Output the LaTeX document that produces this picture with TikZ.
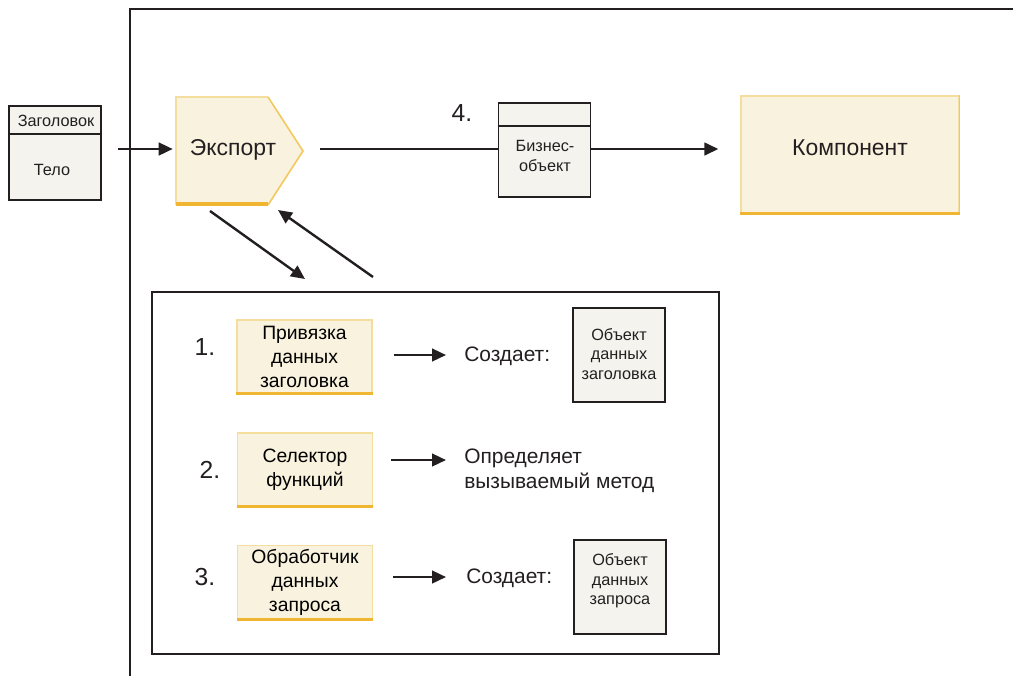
\documentclass[tikz,border=0pt]{standalone}
\usepackage{fontspec}
\setmainfont{Liberation Sans}
\usetikzlibrary{arrows.meta,calc}
\definecolor{yfill}{HTML}{F9F2DE}
\definecolor{ylight}{HTML}{F4DE9E}
\definecolor{ymid}{HTML}{F3C85C}
\definecolor{ydark}{HTML}{F0B632}
\definecolor{gfill}{HTML}{F5F3EE}
\definecolor{dk}{HTML}{231F20}
\newcommand\myBig{\fontsize{17.2}{20}\selectfont}
\newcommand\myMid{\fontsize{14.5}{18}\selectfont}
\newcommand\myMidB{\fontsize{15.7}{19}\selectfont}
\newcommand\mySmall{\fontsize{12.2}{14.6}\selectfont}
\begin{document}
\begin{tikzpicture}[x=0.75pt,y=-0.75pt,
  ln/.style={line width=1.8pt, draw=dk},
  arr/.style={ln, -{Triangle[length=10.5pt,width=9.5pt]}},
  ybox/.style={draw=ylight, fill=yfill, line width=1pt, minimum width=101.25pt, minimum height=55.5pt, inner sep=0pt, align=center, font=\myMid},
  gbox/.style={draw=dk, fill=gfill, line width=1.3pt, minimum width=69pt, minimum height=70.5pt, inner sep=0pt},
  txt/.style={inner sep=0pt, align=center, text=dk},
  num/.style={inner sep=0pt, font=\fontsize{18.5}{20}\selectfont, text=dk},
  ybottom/.style={draw=ydark, line width=2.5pt},
  yright/.style={draw=ymid, line width=1pt}]
\useasboundingbox (0,0) rectangle (1013,676);

% frame
\draw[line width=1.6pt, draw=dk] (130,676) -- (130,9) -- (1013,9);

% message box
\node[gbox] (msg) at (55,153) {};
\draw[dk, line width=1.3pt] ($(msg.north west)+(0,29)$) -- ($(msg.north east)+(0,29)$);
\node[txt, font=\mySmall] (msgh) at (56,121) {Заголовок};
\node[txt, font=\mySmall] (msgb) at (52,170) {Тело};

% export
\node[txt, font=\myBig, minimum width=95.25pt, minimum height=81pt] (exp) at (239.5,151) {};
\fill[yfill] (176,97) -- (268,97) -- (303,151) -- (268,205) -- (176,205) -- cycle;
\draw[ylight, line width=1pt] (176,205) -- (176,97) -- (268,97);
\draw[ymid, line width=1.2pt] (268,97) -- (303,151) -- (268,205);
\draw[ybottom] (176,204) -- (268,204);
\node[txt, font=\myBig] (expt) at (233,150) {Экспорт};

% business object
\node[gbox] (bo) at (544.5,150) {};
\draw[dk, line width=1.3pt] ($(bo.north west)+(0,24)$) -- ($(bo.north east)+(0,24)$);
\node[txt, font=\mySmall] (bot) at (545,156) {Бизнес-\\объект};
\node[num] (n4) at (462,113) {4.};

% component
\node[draw=ylight, fill=yfill, line width=1pt, minimum width=163.5pt, minimum height=88.5pt, inner sep=0pt] (komp) at (850,155) {};
\draw[yright] (komp.north east) -- (komp.south east);
\draw[ybottom] ($(komp.south west)+(0,-1)$) -- ($(komp.south east)+(0,-1)$);
\node[txt, font=\myBig] (kompt) at (850,148) {Компонент};

% top connectors
\draw[arr] ($(msg.east)+(16,-4)$) -- ($(exp.west)+(-3,-2)$);
\draw[ln] ($(exp.east)+(17,-2)$) -- ($(bo.west)+(0,-1)$);
\draw[arr] ($(bo.east)+(0,-1)$) -- ($(komp.west)+(-22,-6)$);

% inner box
\node[draw=dk, line width=1.6pt, minimum width=425.25pt, minimum height=271.5pt, inner sep=0pt] (inner) at (435.5,473) {};

% diagonal arrows
\coordinate (d1s) at (210,211);
\coordinate (d1e) at (305,279);
\coordinate (d2s) at (373,277);
\coordinate (d2e) at (278,210);
\draw[arr] (d1s) -- (d1e);
\draw[arr] (d2s) -- (d2e);

% row 1
\node[num] (n1) at (205,347) {1.};
\node[ybox] (y1) at (304.5,357) {Привязка\\данных\\заголовка};
\node[txt, font=\myMidB, anchor=west] (c1) at (464,356) {Создает:};
\node[gbox] (o1) at (619,355) {};
\node[txt, font=\mySmall] (o1t) at (619,354) {Объект\\данных\\заголовка};
\draw[arr] ($(y1.east)+(21,-2)$) -- ($(c1.west)+(-18,-1)$);

% row 2
\node[num] (n2) at (210,470) {2.};
\node[ybox] (y2) at (305,470) {Селектор\\функций};
\node[txt, font=\myMidB, anchor=west, align=left] (c2) at (464,471) {Определяет\\вызываемый метод};
\draw[arr] ($(y2.east)+(18,-10)$) -- ($(c2.west)+(-18,-11)$);

% row 3
\node[num] (n3) at (205,577) {3.};
\node[ybox] (y3) at (305,582.5) {Обработчик\\данных\\запроса};
\node[txt, font=\myMidB, anchor=west] (c3) at (466,578) {Создает:};
\node[gbox] (o3) at (620,587) {};
\node[txt, font=\mySmall] (o3t) at (620,581) {Объект\\данных\\запроса};
\draw[arr] ($(y3.east)+(20,-5.5)$) -- ($(c3.west)+(-20,-1)$);

% yellow box edges
\foreach \b in {y1,y2,y3}{
  \draw[ybottom] ($(\b.south west)+(0,-1)$) -- ($(\b.south east)+(0,-1)$);
}
\end{tikzpicture}
\end{document}
